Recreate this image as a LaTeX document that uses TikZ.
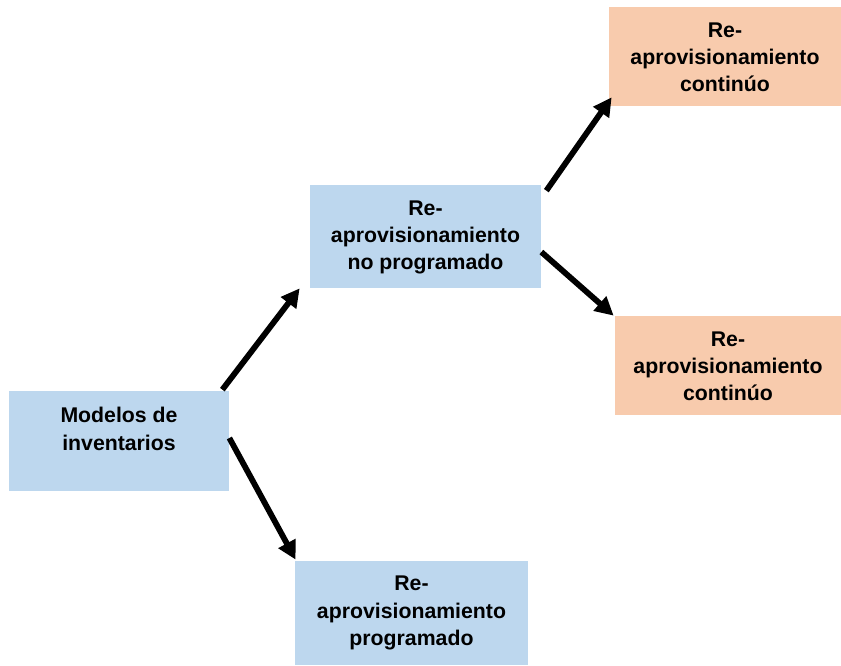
\documentclass[tikz,border=0pt]{standalone}
\usepackage{fontspec}
\setmainfont{Liberation Sans}
\usetikzlibrary{arrows.meta}
\definecolor{boxblue}{RGB}{189,215,238}
\definecolor{boxorange}{RGB}{248,203,173}
\tikzset{
  box/.style={inner sep=0pt, draw=none},
  txt/.style={anchor=north, align=center, inner sep=0pt,
    font=\fontsize{12.1}{15.6}\selectfont\bfseries},
  arr/.style={line width=3.3pt, -{Triangle[length=10.5pt,width=10.5pt]}}
}
\begin{document}
\begin{tikzpicture}
        \useasboundingbox (0,0) rectangle (16.82,13.3);

        % boxes
        \node[box, fill=boxblue, minimum width=4.4cm, minimum height=2cm] (inv) at (2.38,4.48) {};
        \node[box, fill=boxblue, minimum width=4.62cm, minimum height=2.06cm] (noprog) at (8.51,8.57) {};
        \node[box, fill=boxblue, minimum width=4.66cm, minimum height=2.08cm] (prog) at (8.23,1.04) {};
        \node[box, fill=boxorange, minimum width=4.64cm, minimum height=1.98cm] (contA) at (14.5,12.17) {};
        \node[box, fill=boxorange, minimum width=4.52cm, minimum height=1.98cm] (contB) at (14.56,5.99) {};

        % texts
        \node[txt] (invtxt) at ([yshift=-0.33cm]inv.north) {Modelos de\\inventarios};
        \node[txt] (noprogtxt) at ([yshift=-0.31cm]noprog.north) {Re-\\aprovisionamiento\\no programado};
        \node[txt] (progtxt) at ([yshift=-0.3cm]prog.north) {Re-\\aprovisionamiento\\programado};
        \node[txt] (contAtxt) at ([yshift=-0.31cm]contA.north) {Re-\\aprovisionamiento\\contin\'uo};
        \node[txt] (contBtxt) at ([yshift=-0.31cm]contB.north) {Re-\\aprovisionamiento\\contin\'uo};

        % arrows
        \draw[arr] ([xshift=-0.14cm,yshift=0.02cm]inv.north east) -- ([xshift=-0.2cm]noprog.south west);
        \draw[arr] ([yshift=0.06cm]inv.east) -- ([xshift=0.02cm,yshift=0.02cm]prog.north west);
        \draw[arr] ([xshift=0.1cm,yshift=-0.12cm]noprog.north east) -- ([xshift=0.06cm,yshift=0.18cm]contA.south west);
        \draw[arr] ([yshift=-0.31cm]noprog.east) -- ([xshift=-0.02cm]contB.north west);
\end{tikzpicture}
\end{document}
